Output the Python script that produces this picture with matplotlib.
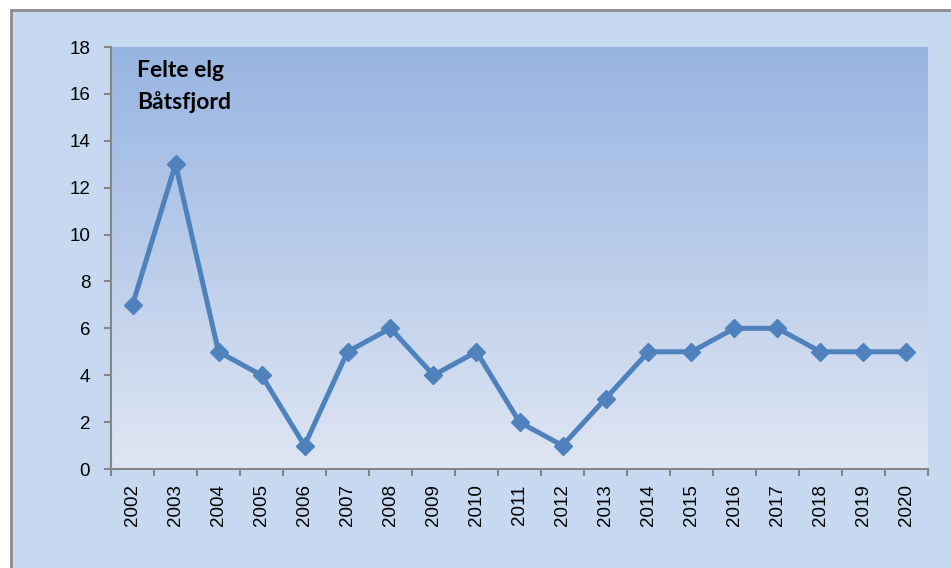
import numpy as np
import matplotlib.pyplot as plt
from matplotlib.patches import Rectangle
from matplotlib.colors import LinearSegmentedColormap

years = [str(y) for y in range(2002, 2021)]
felte = [7, 13, 5, 4, 1, 5, 6, 4, 5, 2, 1, 3, 5, 5, 6, 6, 5, 5, 5]

W, H = 951, 568
fig = plt.figure(figsize=(W / 100, H / 100), dpi=100)
fig.patch.set_facecolor('white')

# chart frame, behind the axes
frame = Rectangle((11 / W, -0.05), 1.0, 1 - 10 / H + 0.05,
                  transform=fig.transFigure, facecolor='#c6d9f0',
                  edgecolor='#8c8c8c', linewidth=2, zorder=-10)
fig.add_artist(frame)

ax = fig.add_axes([111 / W, 1 - 469 / H, (928 - 111) / W, (469 - 47) / H])
ax.set_facecolor('none')

# vertical gradient in the plot area
cmap = LinearSegmentedColormap.from_list('bg', ['#dfe6f3', '#97b4e1'])
grad = np.linspace(0, 1, 256).reshape(-1, 1)
x = np.arange(len(years))
ax.imshow(grad, cmap=cmap, aspect='auto', origin='lower',
          extent=[-0.5, len(years) - 0.5, 0, 18], zorder=0)

ax.plot(x, felte, color='#4f81bd', lw=3.6, marker='D', markersize=9.5,
        markeredgecolor='#4f81bd', zorder=3)

ax.set_xlim(-0.5, len(years) - 0.5)
ax.set_ylim(0, 18)
ax.set_yticks(range(0, 19, 2))
ax.set_xticks(x)
ax.set_xticklabels(years, rotation=90, fontsize=13.5, family='Liberation Sans')
ax.set_xticks(np.arange(-0.5, len(years)), minor=True)
ax.tick_params(axis='x', which='major', length=0, pad=11)
ax.tick_params(axis='x', which='minor', length=5, width=1.5, color='#858585')
ax.tick_params(axis='y', length=5, width=1.5, color='#858585', labelsize=13.5, pad=10)
for lab in ax.get_yticklabels():
    lab.set_family('Liberation Sans')

for s in ['top', 'right']:
    ax.spines[s].set_visible(False)
for s in ['left', 'bottom']:
    ax.spines[s].set_color('#858585')
    ax.spines[s].set_linewidth(1.5)

ax.text(26 / 817, 1 - 13 / 422, 'Felte elg\nBåtsfjord', transform=ax.transAxes,
        fontsize=16.5, fontweight='bold', family='Lato', va='top', ha='left',
        linespacing=1.55)

fig.savefig('out.png', dpi=100)
